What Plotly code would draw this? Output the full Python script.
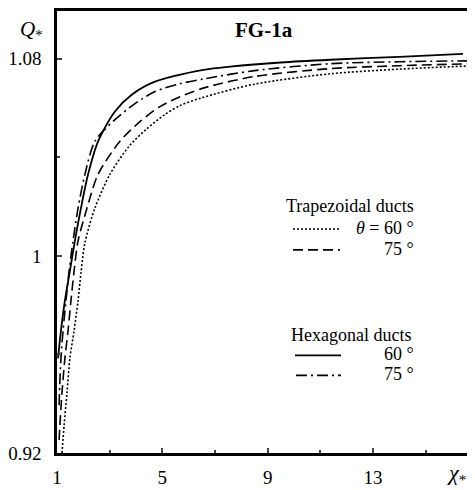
import plotly.graph_objects as go

# Trapezoidal ducts, theta = 60 deg (dotted)
trap60_x = [1.19, 1.27, 1.38, 1.49, 1.65, 1.80, 1.91, 2.06, 2.44, 3.01, 3.73, 4.38, 5.10, 5.67, 6.51, 8.5, 11.37, 14.0, 16.88]
trap60_q = [0.9200, 0.9313, 0.9446, 0.9584, 0.9697, 0.9818, 0.9931, 1.0053, 1.0194, 1.0331, 1.0444, 1.0513, 1.0574, 1.0610, 1.0642, 1.0697, 1.0739, 1.0758, 1.0772]
# Trapezoidal ducts, theta = 75 deg (dashed)
trap75_x = [1.08, 1.11, 1.19, 1.30, 1.42, 1.53, 1.65, 1.80, 2.14, 2.56, 3.39, 4.15, 4.91, 5.67, 6.62, 8.5, 11.37, 14.0, 16.88]
trap75_q = [0.9253, 0.9313, 0.9446, 0.9584, 0.9697, 0.9818, 0.9939, 1.0061, 1.0194, 1.0331, 1.0465, 1.0545, 1.0606, 1.0646, 1.0683, 1.0728, 1.0760, 1.0772, 1.0780]
# Hexagonal ducts, 60 deg (solid)
hex60_x = [1.04, 1.15, 1.30, 1.49, 1.68, 1.91, 2.18, 2.56, 3.20, 3.85, 4.72, 6.62, 7.57, 9.5, 11.37, 14.0, 16.42]
hex60_q = [0.9584, 0.9697, 0.9818, 0.9939, 1.0061, 1.0194, 1.0331, 1.0465, 1.0586, 1.0655, 1.0707, 1.0756, 1.0768, 1.0785, 1.0796, 1.0808, 1.0820]
# Hexagonal ducts, 75 deg (dash-dot)
hex75_x = [1.08, 1.11, 1.15, 1.23, 1.34, 1.46, 1.61, 1.80, 2.06, 2.44, 3.16, 3.96, 4.72, 5.67, 6.62, 8.5, 11.37, 14.0, 16.88]
hex75_q = [0.9394, 0.9495, 0.9584, 0.9697, 0.9818, 0.9939, 1.0061, 1.0194, 1.0331, 1.0465, 1.0549, 1.0618, 1.0667, 1.0699, 1.0719, 1.0752, 1.0780, 1.0788, 1.0792]

x_ticks = [1, 5, 9, 13]
x_minor = [3, 7, 11, 15]
y_ticks = [0.92, 1.0, 1.08]
y_minor = [0.96, 1.04]
y_ticklabels = ["0.92", "1", "1.08"]

FONT = "Liberation Serif"

series = [
    (trap60_x, trap60_q, "2px,2px", 1.6),
    (trap75_x, trap75_q, "10px,5px", 1.6),
    (hex60_x, hex60_q, "solid", 1.8),
    (hex75_x, hex75_q, "11px,4px,2px,4px", 1.6),
]

fig = go.Figure()
for xs, qs, dash, w in series:
    fig.add_trace(go.Scatter(x=xs, y=qs, mode="lines",
                             line=dict(color="black", width=w, dash=dash, shape="spline", smoothing=0.8),
                             showlegend=False, hoverinfo="skip"))

# page is drawn with an 8px body margin; compensate
OFF = 8
W, H = 475 - OFF, 490 - OFF
PL, PR, PT, PB = 57, 475, 9, 453          # plot area in page pixels
L, R, T, B = PL - OFF, (475 - PR), PT - OFF, 490 - PB
pw, ph = PR - PL, PB - PT

def px(xp):
    return (xp - PL) / pw

def py(yp):
    return (PB - yp) / ph

fig.update_layout(
    width=W, height=H,
    margin=dict(l=L, r=R, t=T, b=B, pad=0),
    paper_bgcolor="white", plot_bgcolor="white",
    font=dict(family=FONT, size=19, color="black"),
    xaxis=dict(range=[1, 1 + pw / 26.33], tickvals=x_ticks, ticks="inside", ticklen=5, tickwidth=2,
               showline=True, linewidth=2.5, linecolor="black", mirror=True, showgrid=False, zeroline=False,
               ticklabelstandoff=5,
               minor=dict(tickvals=x_minor, ticks="inside", ticklen=3, tickwidth=2, showgrid=False)),
    yaxis=dict(range=[0.92, 0.92 + ph / 2475], tickvals=y_ticks, ticktext=y_ticklabels, ticks="inside",
               ticklen=5, tickwidth=2, showline=True, linewidth=2.5, linecolor="black", showgrid=False,
               zeroline=False, ticklabelstandoff=9,
               minor=dict(tickvals=y_minor, ticks="inside", ticklen=3, tickwidth=2, showgrid=False)),
)

annotations = [
    dict(x=px(264), y=py(28), text="<b>FG-1a</b>", size=21),
    dict(x=px(31), y=py(28), text="<i>Q</i><sub>*</sub>", size=21),
    dict(x=px(456), y=py(474), text="<i>χ</i><sub>*</sub>", size=22),
    dict(x=px(350), y=py(205), text="Trapezoidal ducts", size=18),
    dict(x=px(416), y=py(227), text="<i>θ</i> = 60 °", xanchor="right", size=18),
    dict(x=px(416), y=py(248), text="75 °", xanchor="right", size=18),
    dict(x=px(351), y=py(334), text="Hexagonal ducts", size=18),
    dict(x=px(416), y=py(354), text="60 °", xanchor="right", size=18),
    dict(x=px(416), y=py(374), text="75 °", xanchor="right", size=18),
]
for a in annotations:
    size = a.pop("size")
    a.setdefault("xanchor", "center")
    fig.add_annotation(xref="paper", yref="paper", showarrow=False, yanchor="middle",
                       font=dict(family=FONT, color="black", size=size), **a)

legend_samples = [
    (293, 340, 228, "2px,2px", 1.4),
    (293, 340, 249, "10px,5px", 1.6),
    (295, 341, 355, "solid", 1.8),
    (296, 341, 375, "11px,4px,2px,4px", 1.6),
]
for x0, x1, yy, dash, w in legend_samples:
    fig.add_shape(type="line", xref="paper", yref="paper", x0=px(x0), x1=px(x1), y0=py(yy), y1=py(yy),
                  line=dict(color="black", width=w, dash=dash))

fig.write_html("out.html")
